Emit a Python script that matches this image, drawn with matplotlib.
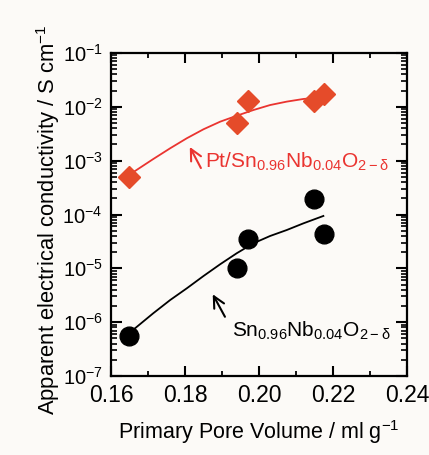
import matplotlib
matplotlib.use("Agg")
import matplotlib.pyplot as plt
from matplotlib.ticker import LogLocator, FixedLocator, MultipleLocator
import numpy as np

### data
pore_x = [0.1649, 0.1940, 0.1969, 0.2149, 0.2176]
pt_sigma = [5.0e-4, 5.1e-3, 1.28e-2, 1.28e-2, 1.71e-2]      # Pt/Sn0.96Nb0.04O2-d
snb_sigma = [5.6e-7, 1.0e-5, 3.46e-5, 1.94e-4, 4.34e-5]     # Sn0.96Nb0.04O2-d

# guide curves
pt_fit_x = [0.1650, 0.1665, 0.1714, 0.1760, 0.1805, 0.1850, 0.1895, 0.1940,
            0.1985, 0.2030, 0.2075, 0.2120, 0.2156, 0.2170]
pt_fit_y = [5.9e-4, 6.43e-4, 1.07e-3, 1.70e-3, 2.61e-3, 3.83e-3, 5.30e-3, 6.84e-3,
            8.73e-3, 1.08e-2, 1.25e-2, 1.40e-2, 1.48e-2, 1.50e-2]
snb_fit_x = [0.1665, 0.1714, 0.1760, 0.1805, 0.1850, 0.1895, 0.1940, 0.1985,
             0.2030, 0.2075, 0.2120, 0.2174]
snb_fit_y = [7.7e-7, 1.46e-6, 2.58e-6, 4.26e-6, 7.2e-6, 1.19e-5, 1.91e-5, 2.92e-5,
             3.99e-5, 5.15e-5, 6.85e-5, 9.4e-5]

ytick_vals = [1e-7, 1e-6, 1e-5, 1e-4, 1e-3, 1e-2, 1e-1]
ytick_labels = [r'$\mathregular{10^{-7}}$', r'$\mathregular{10^{-6}}$', r'$\mathregular{10^{-5}}$',
                r'$\mathregular{10^{-4}}$', r'$\mathregular{10^{-3}}$', r'$\mathregular{10^{-2}}$',
                r'$\mathregular{10^{-1}}$']
xtick_vals = [0.16, 0.18, 0.20, 0.22, 0.24]
xtick_labels = ['0.16', '0.18', '0.20', '0.22', '0.24']

### style
plt.rcParams.update({'font.family': ['Liberation Sans', 'DejaVu Sans'],
                     'mathtext.default': 'regular',
                     'axes.linewidth': 1.6,
                     'xtick.direction': 'in', 'ytick.direction': 'in',
                     'xtick.top': True, 'ytick.right': True,
                     'xtick.major.size': 7, 'xtick.major.width': 1.5,
                     'xtick.minor.size': 3.5, 'xtick.minor.width': 1.3,
                     'ytick.major.size': 8, 'ytick.major.width': 1.5,
                     'ytick.minor.size': 4, 'ytick.minor.width': 1.2})

bg = '#fcfaf7'
red_mark = '#e54b2a'
red_line = '#ea3430'

fig = plt.figure(figsize=(4.29, 4.55), dpi=100, facecolor=bg)
ax = fig.add_axes([0.2587, 0.1736, 0.69, 0.7099], facecolor=bg)

ax.plot(pt_fit_x, pt_fit_y, '-', color=red_line, lw=1.3)
ax.plot(snb_fit_x, snb_fit_y, '-', color='black', lw=1.3)
ax.plot(pore_x, pt_sigma, 'D', color=red_mark, ms=11, mec=red_mark, ls='none')
ax.plot(pore_x, snb_sigma, 'o', color='black', ms=13.5, ls='none')

ax.set_yscale('log')
ax.set_xlim(0.16, 0.24)
ax.set_ylim(1e-7, 1e-1)
ax.yaxis.set_major_locator(FixedLocator(ytick_vals))
ax.set_yticklabels(ytick_labels)
ax.yaxis.set_minor_locator(LogLocator(base=10, subs=np.arange(2, 10)))
ax.yaxis.set_minor_formatter(plt.NullFormatter())
ax.xaxis.set_major_locator(FixedLocator(xtick_vals))
ax.set_xticklabels(xtick_labels)
ax.xaxis.set_minor_locator(MultipleLocator(0.01))
ax.tick_params(axis='x', which='major', labelsize=16.5, pad=6)
ax.tick_params(axis='y', which='major', labelsize=14.5, pad=6)

ax.set_xlabel(r'Primary Pore Volume / ml g$^{-1}$', fontsize=15.5, labelpad=8)
ax.set_ylabel(r'Apparent electrical conductivity / S cm$^{-1}$', fontsize=15.8)
ax.yaxis.set_label_coords(-0.165, 0.483)

### labels with small arrows
arrow_style = '->, head_length=0.8, head_width=0.4'
ax.annotate('', xy=(0.1813, 1.8e-3), xytext=(0.1843, 7.3e-4),
            arrowprops=dict(arrowstyle=arrow_style, color=red_line, lw=1.5,
                            shrinkA=0, shrinkB=0))
ax.text(0.1854, 7.3e-4, r'Pt/Sn$_{0.96}$Nb$_{0.04}$O$_{2-\delta}$', color=red_line,
        fontsize=15, va='baseline', ha='left')
ax.annotate('', xy=(0.1875, 3.3e-6), xytext=(0.1908, 1.26e-6),
            arrowprops=dict(arrowstyle=arrow_style, color='black', lw=1.5,
                            shrinkA=0, shrinkB=0))
ax.text(0.1926, 5.4e-7, r'Sn$_{0.96}$Nb$_{0.04}$O$_{2-\delta}$', color='black',
        fontsize=15, va='baseline', ha='left')

fig.savefig('out.png', dpi=100, facecolor=bg)
